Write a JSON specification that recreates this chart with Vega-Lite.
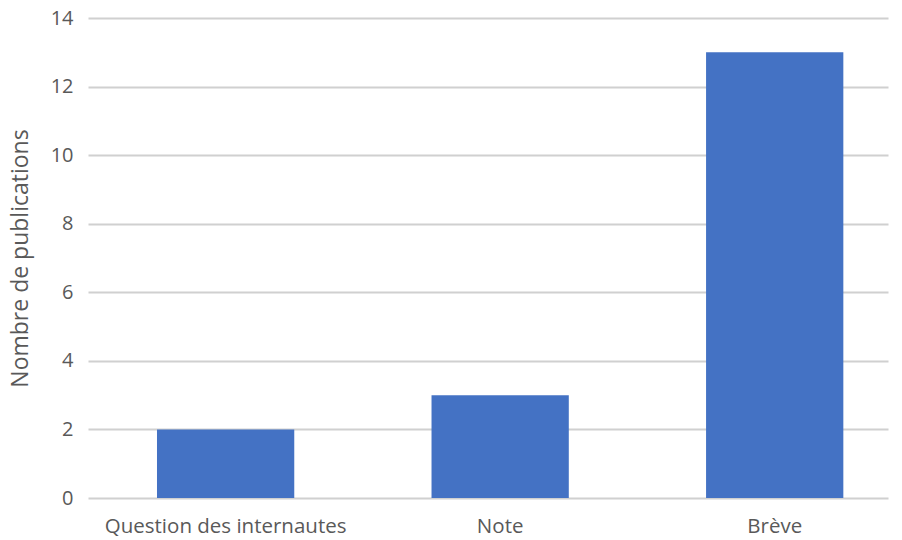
{
  "$schema": "https://vega.github.io/schema/vega-lite/v6.json",
  "width": 800,
  "height": 480,
  "autosize": "none",
  "padding": {"left": 88, "top": 18, "right": 14, "bottom": 42},
  "background": "white",
  "config": {
    "view": {"stroke": null},
    "font": "Open Sans"
  },
  "data": {
    "values": [
      {"type": "Question des internautes", "n": 2},
      {"type": "Note", "n": 3},
      {"type": "Brève", "n": 13}
    ]
  },
  "mark": {"type": "bar", "color": "#4472C4"},
  "encoding": {
    "x": {
      "field": "type",
      "type": "nominal",
      "sort": null,
      "scale": {"paddingInner": 0.5, "paddingOuter": 0.207, "align": 0.607},
      "axis": {
        "title": null,
        "labelAngle": 0,
        "domain": false,
        "ticks": false,
        "labelFontSize": 20.5,
        "labelLimit": 0,
        "labelColor": "#595959",
        "labelPadding": 18
      }
    },
    "y": {
      "field": "n",
      "type": "quantitative",
      "scale": {"domain": [0, 14]},
      "axis": {
        "title": "Nombre de publications",
        "titleFontSize": 23,
        "titleFontWeight": "normal",
        "titleColor": "#595959",
        "titlePadding": 18,
        "values": [0, 2, 4, 6, 8, 10, 12, 14],
        "domain": false,
        "ticks": false,
        "labelFontSize": 20,
        "labelColor": "#595959",
        "labelPadding": 15,
        "gridColor": "#d0d0d0",
        "gridWidth": 2
      }
    }
  }
}
